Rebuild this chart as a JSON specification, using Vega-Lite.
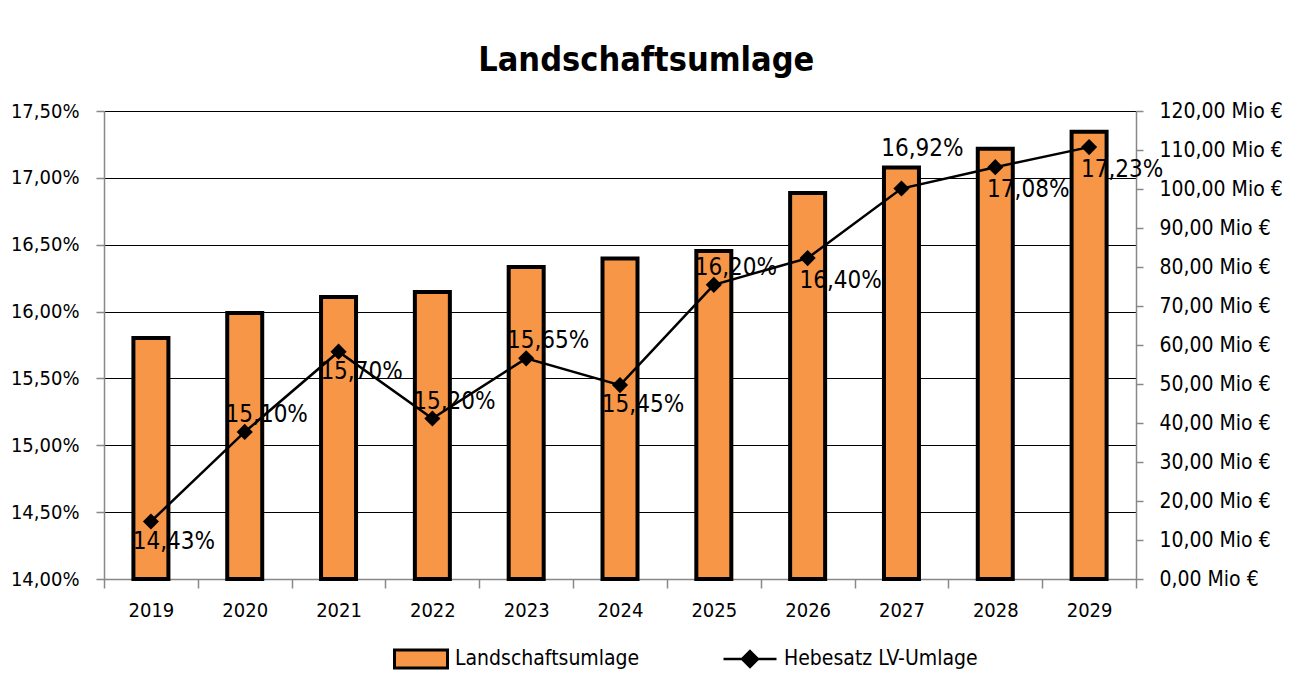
{
  "$schema": "https://vega.github.io/schema/vega-lite/v6.json",
  "width": 1032,
  "height": 468,
  "autosize": {"type": "none"},
  "padding": {"left": 104, "top": 111, "right": 155, "bottom": 98},
  "background": "white",
  "config": {
    "locale": {"number": {"decimal": ",", "thousands": ".", "grouping": [3], "currency": ["", " Mio €"]}},
    "font": "DejaVu Sans Condensed, sans-serif",
    "view": {"stroke": null}
  },
  "title": {"text": "Landschaftsumlage", "fontSize": 34, "fontWeight": "bold", "color": "black", "anchor": "middle", "frame": "bounds", "offset": 22},
  "data": {"values": [
    {"year": "2019", "umlage": 61.8, "rate": 0.1443},
    {"year": "2020", "umlage": 68.2, "rate": 0.1510},
    {"year": "2021", "umlage": 72.3, "rate": 0.1570},
    {"year": "2022", "umlage": 73.6, "rate": 0.1520},
    {"year": "2023", "umlage": 80.0, "rate": 0.1565},
    {"year": "2024", "umlage": 82.2, "rate": 0.1545},
    {"year": "2025", "umlage": 84.1, "rate": 0.1620},
    {"year": "2026", "umlage": 99.0, "rate": 0.1640},
    {"year": "2027", "umlage": 105.5, "rate": 0.1692},
    {"year": "2028", "umlage": 110.3, "rate": 0.1708},
    {"year": "2029", "umlage": 114.7, "rate": 0.1723}
  ]},
  "encoding": {
    "x": {"field": "year", "type": "ordinal", "scale": {"paddingInner": 0, "paddingOuter": 0},
      "axis": {"labelAngle": 0, "title": null, "domainColor": "#888888", "domainWidth": 1.5, "tickColor": "#888888", "tickWidth": 1.5, "tickSize": 9, "tickBand": "extent", "labelFontSize": 20, "labelColor": "black", "labelPadding": 12}}
  },
  "layer": [
    {
      "mark": {"type": "bar", "width": 35, "stroke": "black", "strokeWidth": 4},
      "encoding": {
        "y": {"field": "umlage", "type": "quantitative", "scale": {"domain": [0, 120], "nice": false},
          "axis": {"orient": "right", "format": "$.2f", "values": [0, 10, 20, 30, 40, 50, 60, 70, 80, 90, 100, 110, 120], "grid": false, "title": null, "domainColor": "#888888", "domainWidth": 1.5, "tickColor": "#888888", "tickWidth": 1.5, "tickSize": 7, "labelFontSize": 21, "labelColor": "black", "labelPadding": 16}},
        "fill": {"datum": "Landschaftsumlage", "scale": {"range": ["#F79646"]},
          "legend": {"orient": "none", "legendX": 289, "legendY": 520, "title": null, "symbolType": "M-1,-0.34H1V0.34H-1Z", "symbolSize": 2809, "symbolStrokeColor": "black", "symbolStrokeWidth": 3, "labelFontSize": 21, "labelColor": "black", "labelOffset": 6, "labelLimit": 0, "padding": 0}}
      }
    },
    {
      "encoding": {
        "y": {"field": "rate", "type": "quantitative", "scale": {"domain": [0.14, 0.175], "nice": false, "zero": false},
          "axis": {"orient": "left", "format": ".2%", "values": [0.14, 0.145, 0.15, 0.155, 0.16, 0.165, 0.17, 0.175], "grid": true, "gridColor": "black", "gridWidth": 1, "title": null, "domainColor": "#888888", "domainWidth": 1.5, "tickColor": "#888888", "tickWidth": 1.5, "tickSize": 8, "labelFontSize": 20, "labelColor": "black", "labelPadding": 17}}
      },
      "layer": [
        {
          "mark": {"type": "line", "color": "black", "strokeWidth": 2.5},
          "encoding": {
            "stroke": {"datum": "Hebesatz LV-Umlage", "scale": {"range": ["black"]},
              "legend": {"orient": "none", "legendX": 618, "legendY": 520, "title": null, "symbolType": "M-1,0H1M0,-0.3L0.3,0L0,0.3L-0.3,0Z", "symbolSize": 2809, "symbolFillColor": "black", "symbolStrokeColor": "black", "symbolStrokeWidth": 2.5, "labelFontSize": 21, "labelColor": "black", "labelOffset": 6, "labelLimit": 0, "padding": 0}}
          }
        },
        {
          "mark": {"type": "point", "shape": "diamond", "filled": true, "color": "black", "size": 260, "opacity": 1},
          "encoding": {}
        },
        {
          "transform": [{"filter": "indexof(['2019','2021','2024'], datum.year) >= 0"}],
          "mark": {"type": "text", "fontSize": 24, "color": "black", "align": "center", "baseline": "middle", "dx": 23, "dy": 20},
          "encoding": {"text": {"field": "rate", "type": "quantitative", "format": ".2%"}}
        },
        {
          "transform": [{"filter": "indexof(['2026','2028','2029'], datum.year) >= 0"}],
          "mark": {"type": "text", "fontSize": 24, "color": "black", "align": "center", "baseline": "middle", "dx": 33, "dy": 23},
          "encoding": {"text": {"field": "rate", "type": "quantitative", "format": ".2%"}}
        },
        {
          "transform": [{"filter": "indexof(['2020','2022','2023','2025'], datum.year) >= 0"}],
          "mark": {"type": "text", "fontSize": 24, "color": "black", "align": "center", "baseline": "middle", "dx": 22, "dy": -17},
          "encoding": {"text": {"field": "rate", "type": "quantitative", "format": ".2%"}}
        },
        {
          "transform": [{"filter": "datum.year == '2027'"}],
          "mark": {"type": "text", "fontSize": 24, "color": "black", "align": "center", "baseline": "middle", "dx": 21, "dy": -40},
          "encoding": {"text": {"field": "rate", "type": "quantitative", "format": ".2%"}}
        }
      ]
    }
  ],
  "resolve": {"scale": {"y": "independent"}}
}
